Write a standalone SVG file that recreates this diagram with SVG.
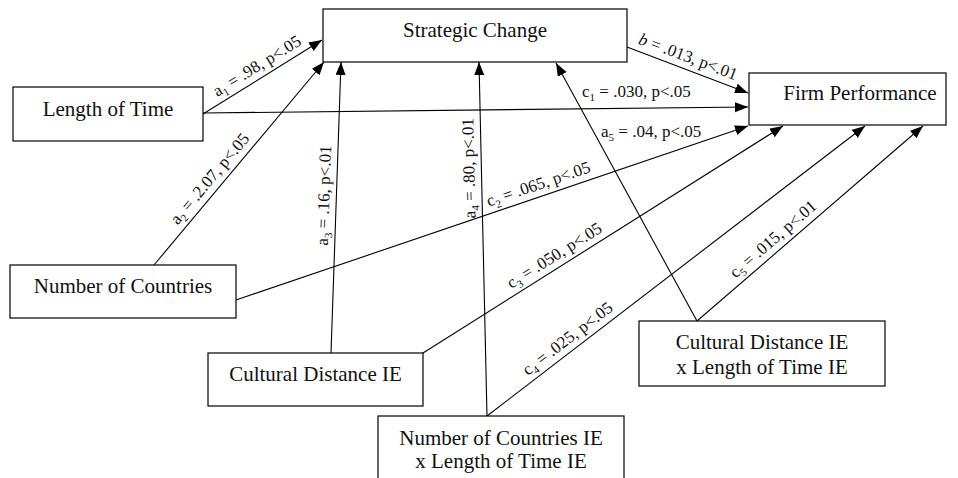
<svg xmlns="http://www.w3.org/2000/svg" width="958" height="478" viewBox="0 0 958 478">
<defs>
<marker id="ah" markerUnits="userSpaceOnUse" markerWidth="14" markerHeight="12" refX="13" refY="5" orient="auto">
<path d="M0,0 L13,5 L0,10 z" fill="#000"/>
</marker>
<style>
.box{fill:#fff;stroke:#000;stroke-width:1.2}
.n{font-family:"Liberation Serif","Times New Roman",serif;font-size:21px;fill:#111;text-anchor:middle}
.l{font-family:"Liberation Serif","Times New Roman",serif;font-size:17px;fill:#111}
.s{font-size:11px}
.c line{stroke:#000;stroke-width:1.1;marker-end:url(#ah)}
</style>
</defs>
<rect width="958" height="478" fill="#fff"/>
<g id="connectors" class="c">
<line x1="203" y1="114" x2="322" y2="40"/>
<line x1="203" y1="113" x2="748" y2="107"/>
<line x1="154" y1="265" x2="324" y2="62"/>
<line x1="331" y1="353" x2="341" y2="62"/>
<line x1="487" y1="416" x2="479" y2="62"/>
<line x1="697" y1="321" x2="556" y2="63"/>
<line x1="627" y1="47" x2="748" y2="93"/>
<line x1="236" y1="300" x2="748" y2="126"/>
<line x1="423" y1="353" x2="783" y2="126"/>
<line x1="487" y1="416" x2="865" y2="126"/>
<line x1="697" y1="321" x2="923" y2="126"/>
</g>
<g id="labels" class="l">
<g transform="translate(221,103) rotate(-31.9)"><text x="0" y="-7">a<tspan class="s" dy="4">1</tspan><tspan dy="-4"> = .98, p&lt;.05</tspan></text></g>
<g transform="translate(183,230) rotate(-50.05)"><text x="0" y="-7">a<tspan class="s" dy="4">2</tspan><tspan dy="-4"> = .2.07, p&lt;.05</tspan></text></g>
<g transform="translate(334.7,246) rotate(-88)"><text x="0" y="-7">a<tspan class="s" dy="4">3</tspan><tspan dy="-4"> = .16, p&lt;.01</tspan></text></g>
<g transform="translate(482.5,218) rotate(-91.3)"><text x="0" y="-7">a<tspan class="s" dy="4">4</tspan><tspan dy="-4"> = .80, p&lt;.01</tspan></text></g>
<text x="601" y="137">a<tspan class="s" dy="4">5</tspan><tspan dy="-4"> = .04, p&lt;.05</tspan></text>
<g transform="translate(635,50) rotate(20.7)"><text x="0" y="-7"><tspan font-style="italic">b</tspan> = .013, p&lt;.01</text></g>
<text x="582" y="97">c<tspan class="s" dy="4">1</tspan><tspan dy="-4"> = .030, p&lt;.05</tspan></text>
<g transform="translate(491,213.4) rotate(-18.8)"><text x="0" y="-7">c<tspan class="s" dy="4">2</tspan><tspan dy="-4"> = .065, p&lt;.05</tspan></text></g>
<g transform="translate(515,295) rotate(-32.2)"><text x="0" y="-7">c<tspan class="s" dy="4">3</tspan><tspan dy="-4"> = .050, p&lt;.05</tspan></text></g>
<g transform="translate(532,381.5) rotate(-37.5)"><text x="0" y="-7">c<tspan class="s" dy="4">4</tspan><tspan dy="-4"> = .025, p&lt;.05</tspan></text></g>
<g transform="translate(740,284) rotate(-40.8)"><text x="0" y="-7">c<tspan class="s" dy="4">5</tspan><tspan dy="-4"> = .015, p&lt;.01</tspan></text></g>
</g>
<g id="strategic-change"><rect class="box" x="323" y="9" width="304" height="53"/><text class="n" x="475" y="37">Strategic Change</text></g>
<g id="length-of-time"><rect class="box" x="13" y="87" width="190" height="54"/><text class="n" x="108" y="116">Length of Time</text></g>
<g id="number-of-countries"><rect class="box" x="10" y="265" width="226" height="53"/><text class="n" x="123" y="293">Number of Countries</text></g>
<g id="cultural-distance"><rect class="box" x="208" y="353" width="215" height="53"/><text class="n" x="315.5" y="381">Cultural Distance IE</text></g>
<g id="countries-x-time"><rect class="box" x="378" y="416" width="246" height="70"/><text class="n" x="501" y="445">Number of Countries IE</text><text class="n" x="501" y="468">x Length of Time IE</text></g>
<g id="distance-x-time"><rect class="box" x="639" y="321" width="246" height="65"/><text class="n" x="762" y="349">Cultural Distance IE</text><text class="n" x="762" y="374">x Length of Time IE</text></g>
<g id="firm-performance"><rect class="box" x="749" y="73" width="197" height="52"/><text class="n" x="860" y="100">Firm Performance</text></g>
</svg>
